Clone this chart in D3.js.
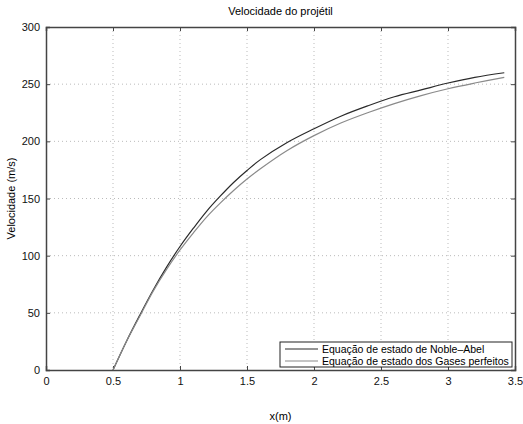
<!DOCTYPE html>
<html>
<head>
<meta charset="utf-8">
<script src="https://cdn.jsdelivr.net/npm/d3@7"></script>
<style>
  body { margin: 0; background: #fff; }
  svg { font-family: "Liberation Sans", Arial, sans-serif; }
</style>
</head>
<body>
<svg id="chart" width="523" height="424"></svg>
<script>
// data
var xs = [0.5, 0.6, 0.7, 0.8, 0.9, 1.0, 1.1, 1.2, 1.3, 1.4, 1.5, 1.6, 1.8, 2.0, 2.2, 2.4, 2.6, 2.8, 3.0, 3.2, 3.42];
var nobleAbel = [0, 25, 48, 70, 90, 108, 124, 139, 152, 164, 174.5, 184, 199, 211, 222, 231, 239, 245, 251, 256, 260];
var gasesPerfeitos = [0, 25, 47, 69, 88, 105, 120, 134, 146, 157, 167, 176, 192, 205, 216, 225, 233, 240, 246, 251, 256];
var xTicks = [0, 0.5, 1, 1.5, 2, 2.5, 3, 3.5];
var yTicks = [0, 50, 100, 150, 200, 250, 300];
var seriesNames = ['Equação de estado de Noble\u2013Abel', 'Equação de estado dos Gases perfeitos'];
var seriesColors = ['#2a2a2a', '#8a8a8a'];

var svg = d3.select('#chart');
var m = { left: 46, top: 27, right: 515, bottom: 370 };

var x = d3.scaleLinear().domain([0, 3.5]).range([m.left, m.right]);
var y = d3.scaleLinear().domain([0, 300]).range([m.bottom, m.top]);

// dotted grid
var grid = svg.append('g');
grid.selectAll('.gx').data(xTicks.slice(1, -1)).enter().append('line')
	.attr('x1', d => x(d)).attr('x2', d => x(d))
	.attr('y1', m.top).attr('y2', m.bottom)
	.attr('stroke', '#bbb').attr('stroke-dasharray', '1,3');
grid.selectAll('.gy').data(yTicks.slice(1, -1)).enter().append('line')
	.attr('y1', d => y(d)).attr('y2', d => y(d))
	.attr('x1', m.left).attr('x2', m.right)
	.attr('stroke', '#bbb').attr('stroke-dasharray', '1,3');

// axes, ticks pointing inwards like matlab
var fmt = d3.format('');
svg.append('g').attr('transform', 'translate(0,' + m.bottom + ')')
	.call(d3.axisBottom(x).tickValues(xTicks).tickSize(-4).tickPadding(7).tickFormat(fmt));
svg.append('g').attr('transform', 'translate(0,' + m.top + ')')
	.call(d3.axisTop(x).tickValues(xTicks).tickSize(-4).tickFormat(''));
svg.append('g').attr('transform', 'translate(' + m.left + ',0)')
	.call(d3.axisLeft(y).tickValues(yTicks).tickSize(-4).tickPadding(6));
svg.append('g').attr('transform', 'translate(' + m.right + ',0)')
	.call(d3.axisRight(y).tickValues(yTicks).tickSize(-4).tickFormat(''));

svg.selectAll('.domain').attr('stroke', '#444').attr('stroke-width', 1.5);
svg.selectAll('.tick line').attr('stroke', '#444');
svg.selectAll('.tick text').attr('font-size', 11).attr('fill', '#111')
	.attr('font-family', '"Liberation Sans", Arial, sans-serif');

// curves
var line = d3.line().x(d => x(d[0])).y(d => y(d[1])).curve(d3.curveCatmullRom);
[nobleAbel, gasesPerfeitos].forEach(function (vals, i) {
	svg.append('path')
		.datum(xs.map((v, j) => [v, vals[j]]))
		.attr('d', line)
		.attr('fill', 'none')
		.attr('stroke', seriesColors[i])
		.attr('stroke-width', 1.2);
});

// titles
svg.append('text').attr('x', (m.left + m.right) / 2).attr('y', 15)
	.attr('text-anchor', 'middle').attr('font-size', 11).text('Velocidade do projétil');
svg.append('text').attr('x', (m.left + m.right) / 2).attr('y', 420)
	.attr('text-anchor', 'middle').attr('font-size', 11).text('x(m)');
svg.append('text').attr('transform', 'translate(15,' + ((m.top + m.bottom) / 2) + ') rotate(-90)')
	.attr('text-anchor', 'middle').attr('font-size', 11).text('Velocidade (m/s)');

// legend
var lg = svg.append('g').attr('transform', 'translate(280,342)');
lg.append('rect').attr('width', 232).attr('height', 25)
	.attr('fill', '#fff').attr('stroke', '#222').attr('stroke-width', 1);
seriesNames.forEach(function (name, i) {
	var ly = 7 + i * 12;
	lg.append('line').attr('x1', 5).attr('x2', 38).attr('y1', ly).attr('y2', ly)
		.attr('stroke', seriesColors[i]).attr('stroke-width', 1.2);
	lg.append('text').attr('x', 42).attr('y', ly + 4).attr('font-size', 10.5).text(name);
});
</script>
</body>
</html>
